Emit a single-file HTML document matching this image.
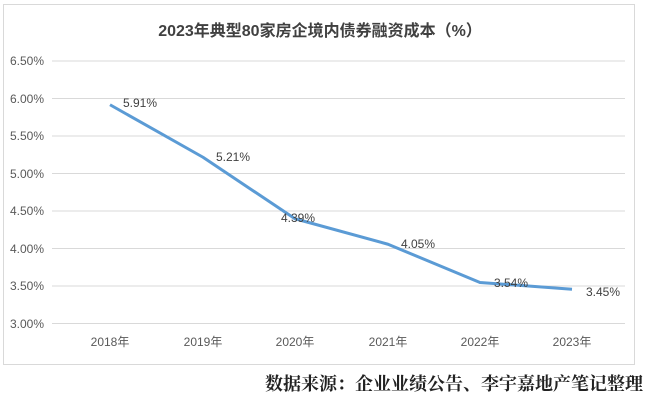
<!DOCTYPE html>
<html><head><meta charset="utf-8"><style>
body{margin:0;background:#fff;width:645px;height:400px;overflow:hidden}
</style></head><body>
<svg width="645" height="400" xmlns="http://www.w3.org/2000/svg" font-family="'Liberation Sans','Noto Sans CJK SC',sans-serif">
<rect x="3.5" y="4.5" width="631" height="360" fill="#fff" stroke="#d9d9d9"/>
<text x="320" y="36" text-anchor="middle" font-size="16" font-weight="bold" fill="#404040">2023年典型80家房企境内债券融资成本（%）</text>
<g stroke="#d9d9d9" stroke-width="1">
<line x1="52" x2="625" y1="61" y2="61"/><line x1="52" x2="625" y1="98.5" y2="98.5"/>
<line x1="52" x2="625" y1="136" y2="136"/><line x1="52" x2="625" y1="173.5" y2="173.5"/>
<line x1="52" x2="625" y1="211" y2="211"/><line x1="52" x2="625" y1="248.5" y2="248.5"/>
<line x1="52" x2="625" y1="286" y2="286"/><line x1="52" x2="625" y1="323.5" y2="323.5"/>
</g>
<g font-size="12" fill="#595959" text-anchor="end">
<text x="44" y="65">6.50%</text><text x="44" y="103">6.00%</text><text x="44" y="140">5.50%</text>
<text x="44" y="178">5.00%</text><text x="44" y="215">4.50%</text><text x="44" y="253">4.00%</text>
<text x="44" y="290">3.50%</text><text x="44" y="328">3.00%</text>
</g>
<g font-size="12" fill="#595959" text-anchor="middle">
<text x="110" y="346">2018年</text><text x="203" y="346">2019年</text><text x="295" y="346">2020年</text>
<text x="388" y="346">2021年</text><text x="480" y="346">2022年</text><text x="572" y="346">2023年</text>
</g>
<polyline points="110,104.75 203,157.25 295,218.75 388,244.25 480,282.5 572,289.25" fill="none" stroke="#5b9bd5" stroke-width="3" stroke-linejoin="round"/>
<g font-size="12" fill="#404040">
<text x="123" y="107">5.91%</text><text x="216" y="161">5.21%</text><text x="281" y="222">4.39%</text>
<text x="401" y="248">4.05%</text><text x="494" y="287">3.54%</text><text x="586" y="296">3.45%</text>
</g>
<text x="643" y="390" text-anchor="end" font-size="18" font-weight="bold" fill="#222" font-family="'Liberation Serif','Noto Serif CJK SC',serif">数据来源：企业业绩公告、李宇嘉地产笔记整理</text>
</svg>
</body></html>
